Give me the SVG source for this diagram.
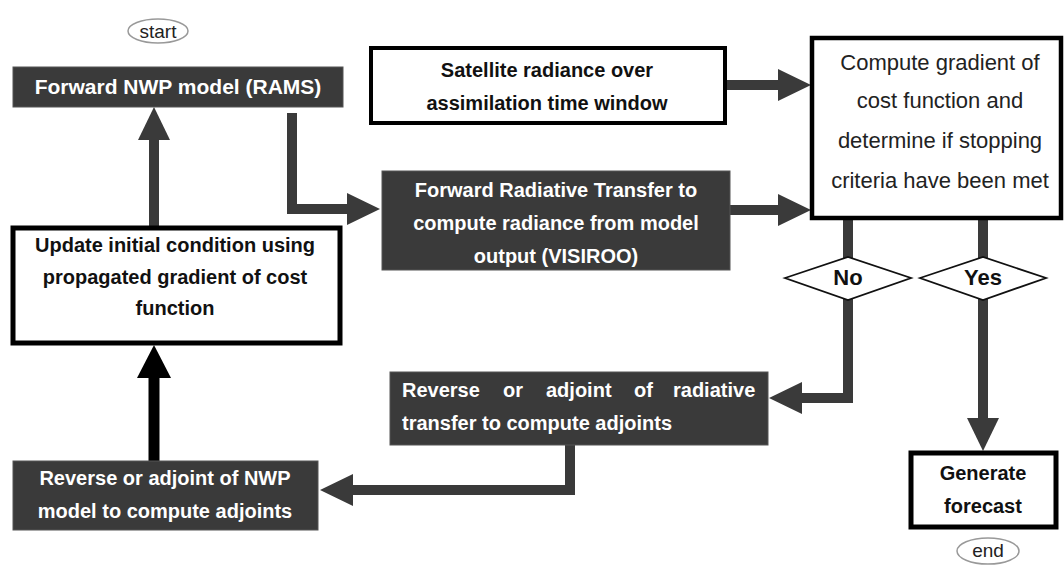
<svg xmlns="http://www.w3.org/2000/svg" width="1064" height="565" viewBox="0 0 1064 565">
<style>
.dark{fill:#3a3a3a;stroke:#555;stroke-width:1}
.white{fill:#fff;stroke:#000;stroke-width:4.5}
.oval{fill:#fff;stroke:#999;stroke-width:1.5}
.dia{fill:#fff;stroke:#111;stroke-width:1.8}
.wt{font-family:"Liberation Sans",Arial,sans-serif;font-weight:bold;font-size:20px;fill:#fff;text-anchor:middle}
.bt{font-family:"Liberation Sans",Arial,sans-serif;font-weight:bold;font-size:20px;fill:#111;text-anchor:middle}
.nt{font-family:"Liberation Sans",Arial,sans-serif;font-size:22px;fill:#222;text-anchor:middle}
.st{font-family:"Liberation Sans",Arial,sans-serif;font-size:19px;fill:#222;text-anchor:middle}
.conn{fill:none;stroke:#3a3a3a;stroke-width:10}
.connk{fill:none;stroke:#000;stroke-width:11}
</style>
<defs>
<marker id="ah" viewBox="0 0 33 32" markerWidth="33" markerHeight="32" refX="0" refY="16" orient="auto" markerUnits="userSpaceOnUse"><path d="M0,0 L33,16 L0,32 z" fill="#3a3a3a"/></marker>
<marker id="ahk" viewBox="0 0 33 34" markerWidth="33" markerHeight="34" refX="0" refY="17" orient="auto" markerUnits="userSpaceOnUse"><path d="M0,0 L33,17 L0,34 z" fill="#000"/></marker>
</defs>
<g id="connectors">
<path class="conn" d="M154,227 V140" marker-end="url(#ah)"/>
<path class="conn" d="M292,113 V209 H347" marker-end="url(#ah)"/>
<path class="conn" d="M726,85 H778" marker-end="url(#ah)"/>
<path class="conn" d="M730,210 H778" marker-end="url(#ah)"/>
<path class="conn" d="M848,218 V258"/>
<path class="conn" d="M983,218 V258"/>
<path class="conn" d="M848,299 V398 H802" marker-end="url(#ah)"/>
<path class="conn" d="M983,299 V418" marker-end="url(#ah)"/>
<path class="conn" d="M570,445 V490 H353" marker-end="url(#ah)"/>
<path class="connk" d="M154,461 V378" marker-end="url(#ahk)"/>
</g>
<g id="start">
<ellipse class="oval" cx="158" cy="31" rx="30" ry="12"/>
<text class="st" x="158" y="38">start</text>
</g>
<g id="forward-nwp">
<rect class="dark" x="13" y="67" width="330" height="40"/>
<text class="wt" x="178" y="94" style="font-size:21px">Forward NWP model (RAMS)</text>
</g>
<g id="satellite">
<rect class="white" x="371" y="48" width="354" height="75" style="stroke-width:4"/>
<text class="bt" x="547" y="77">Satellite radiance over</text>
<text class="bt" x="547" y="110">assimilation time window</text>
</g>
<g id="forward-rt">
<rect class="dark" x="382" y="171" width="348" height="99"/>
<text class="wt" x="556" y="197">Forward Radiative Transfer to</text>
<text class="wt" x="556" y="230">compute radiance from model</text>
<text class="wt" x="556" y="263">output (VISIROO)</text>
</g>
<g id="compute-gradient">
<rect class="white" x="812" y="38" width="249" height="180"/>
<text class="nt" x="940" y="70">Compute gradient of</text>
<text class="nt" x="940" y="108">cost function and</text>
<text class="nt" x="940" y="148">determine if stopping</text>
<text class="nt" x="940" y="188">criteria have been met</text>
</g>
<g id="no">
<polygon class="dia" points="785,278 848,257 911,278 848,300"/>
<text class="bt" x="848" y="285" style="font-size:22px">No</text>
</g>
<g id="yes">
<polygon class="dia" points="920,278 983,257 1046,278 983,300"/>
<text class="bt" x="983" y="285" style="font-size:22px">Yes</text>
</g>
<g id="update">
<rect class="white" x="13" y="228" width="327" height="115" style="stroke-width:5"/>
<text class="bt" x="175" y="252">Update initial condition using</text>
<text class="bt" x="175" y="284">propagated gradient of cost</text>
<text class="bt" x="175" y="315">function</text>
</g>
<g id="reverse-rt">
<rect class="dark" x="390" y="372" width="378" height="73"/>
<text class="wt" y="397" style="text-anchor:start"><tspan x="402">Reverse</tspan><tspan x="503">or</tspan><tspan x="546">adjoint</tspan><tspan x="634">of</tspan><tspan x="673">radiative</tspan></text>
<text class="wt" x="402" y="430" style="text-anchor:start">transfer to compute adjoints</text>
</g>
<g id="reverse-nwp">
<rect class="dark" x="13" y="461" width="305" height="69"/>
<text class="wt" x="165" y="485">Reverse or adjoint of NWP</text>
<text class="wt" x="165" y="518">model to compute adjoints</text>
</g>
<g id="generate">
<rect class="white" x="911" y="453" width="145" height="74" style="stroke-width:5"/>
<text class="bt" x="983" y="480">Generate</text>
<text class="bt" x="983" y="513">forecast</text>
</g>
<g id="end">
<ellipse class="oval" cx="988" cy="551" rx="31" ry="13"/>
<text class="st" x="988" y="557">end</text>
</g>
</svg>
